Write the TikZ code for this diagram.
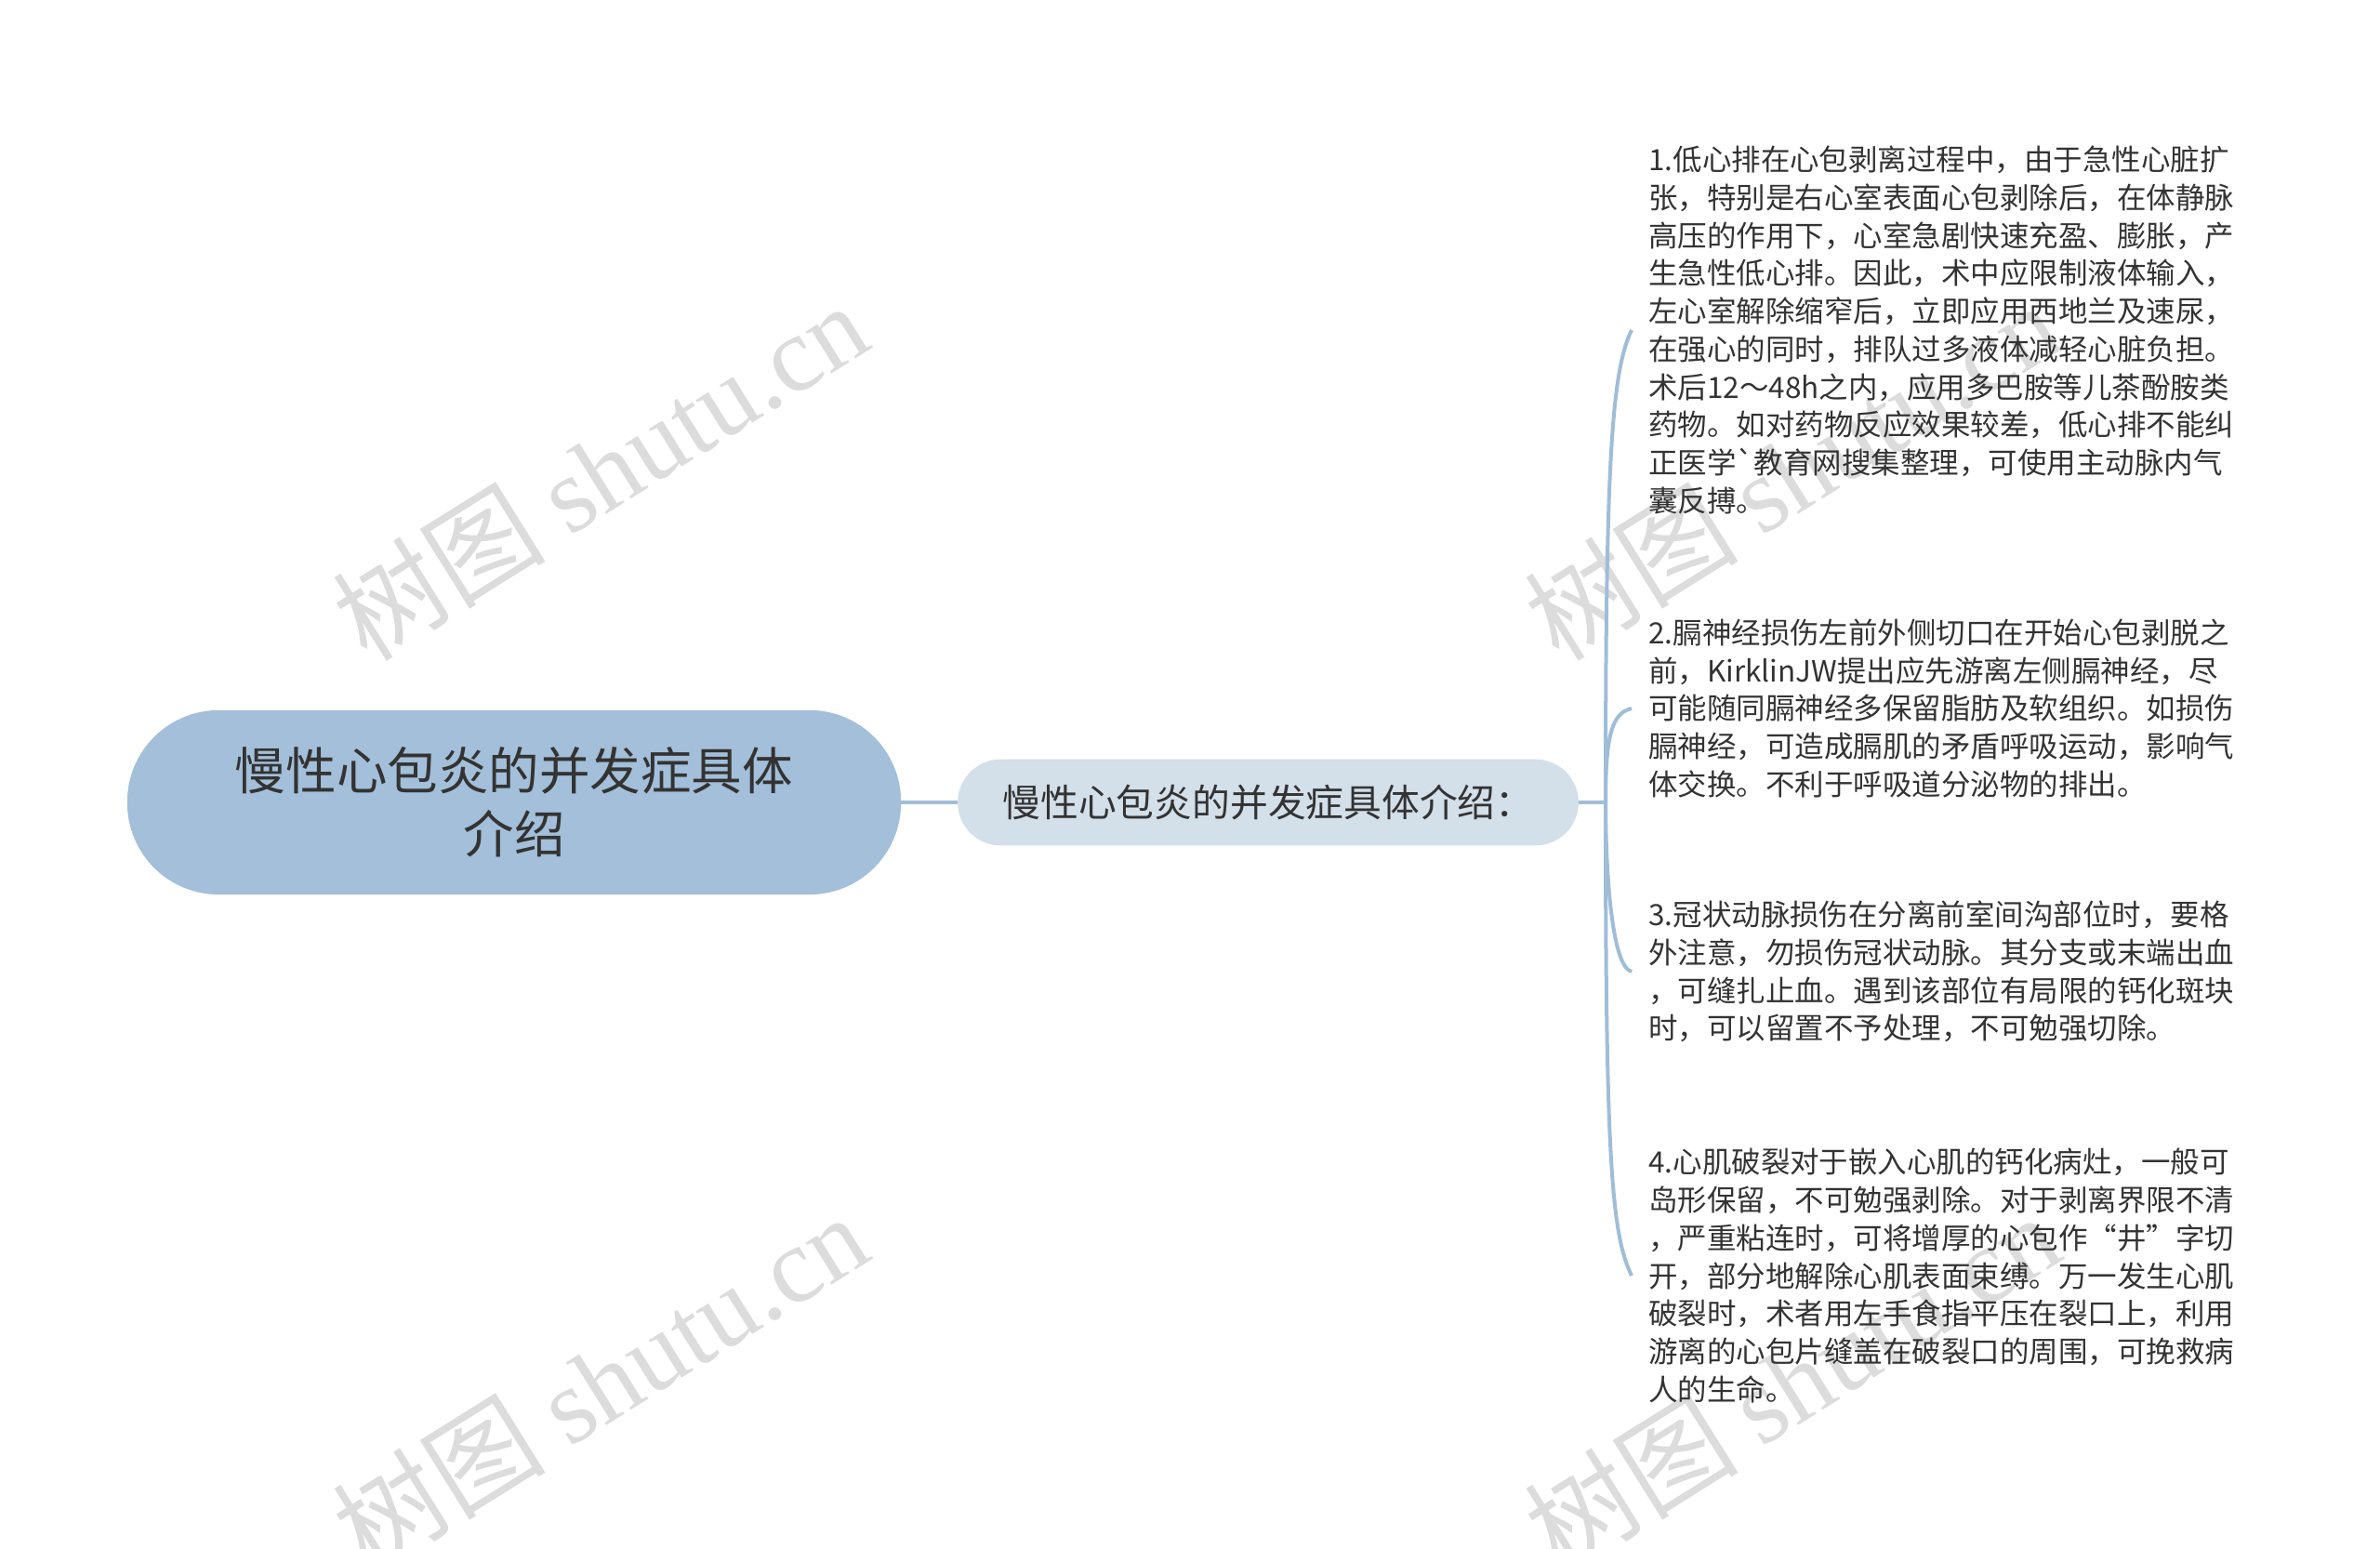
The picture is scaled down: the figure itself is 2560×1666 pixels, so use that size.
\documentclass[tikz,border=0pt]{standalone}
\usepackage{fontspec}
\setmainfont{Noto Sans CJK SC}
\newfontfamily\wmlatin{Liberation Serif}
\newfontfamily\wmcjk{Noto Sans CJK SC}
\definecolor{rootblue}{HTML}{A3BFD9}
\definecolor{subblue}{HTML}{D3DFE9}
\definecolor{linkblue}{HTML}{A0BDD8}
\definecolor{inktext}{HTML}{333333}
\definecolor{wmgray}{HTML}{DCDCDC}
\begin{document}
\begin{tikzpicture}[x=0.25mm,y=0.25mm,
    rootbox/.style={fill=rootblue,text=inktext,align=center,minimum width=592pt,minimum height=141pt,rounded corners=70pt,font=\fontsize{38.8pt}{48.4pt}\selectfont},
    subbox/.style={fill=subblue,text=inktext,minimum width=475pt,minimum height=66pt,rounded corners=33pt,font=\fontsize{29pt}{36pt}\selectfont},
    leafbox/.style={anchor=west,align=left,text=inktext,inner xsep=12.8pt,inner ysep=0pt,font=\fontsize{22.4pt}{29pt}\selectfont},
    link/.style={draw=linkblue,line width=2.85pt},
    wmark/.style={text=wmgray,rotate=32,font=\fontsize{82pt}{82pt}\selectfont}]
    \useasboundingbox (0,0) rectangle (2560,1666);
    % watermarks
    \node[wmark] (wm1) at (645,1160) {\wmcjk 树图 \wmlatin shutu.cn};
    \node[wmark] (wm2) at (645,180) {\wmcjk 树图 \wmlatin shutu.cn};
    \node[wmark] (wm3) at (1927,1160) {\wmcjk 树图 \wmlatin shutu.cn};
    \node[wmark] (wm4) at (1927,180) {\wmcjk 树图 \wmlatin shutu.cn};
    % main topic and subtopic
    \node[rootbox] (root) at (553,803) {慢性心包炎的并发症具体\\介绍};
    \node[subbox] (sub) at (1364,803) {慢性心包炎的并发症具体介绍：};
    \coordinate (hub) at (1727,803);
    % leaves
    \node[leafbox] (leaf1) at (1755,1311) {1.低心排在心包剥离过程中，由于急性心脏扩\\张，特别是右心室表面心包剥除后，在体静脉\\高压的作用下，心室急剧快速充盈、膨胀，产\\生急性低心排。因此，术中应限制液体输入，\\左心室解除缩窄后，立即应用西地兰及速尿，\\在强心的同时，排队过多液体减轻心脏负担。\\术后12～48h之内，应用多巴胺等儿茶酚胺类\\药物。如对药物反应效果较差，低心排不能纠\\正医学\textasciigrave 教育网搜集整理，可使用主动脉内气\\囊反搏。};
    \node[leafbox] (leaf2) at (1755,904) {2.膈神经损伤左前外侧切口在开始心包剥脱之\\前，KirklinJW提出应先游离左侧膈神经，尽\\可能随同膈神经多保留脂肪及软组织。如损伤\\膈神经，可造成膈肌的矛盾呼吸运动，影响气\\体交换。不利于呼吸道分泌物的排出。};
    \node[leafbox] (leaf3) at (1755,621) {3.冠状动脉损伤在分离前室间沟部位时，要格\\外注意，勿损伤冠状动脉。其分支或末端出血\\，可缝扎止血。遇到该部位有局限的钙化斑块\\时，可以留置不予处理，不可勉强切除。};
    \node[leafbox] (leaf4) at (1755,294) {4.心肌破裂对于嵌入心肌的钙化病灶，一般可\\岛形保留，不可勉强剥除。对于剥离界限不清\\，严重粘连时，可将增厚的心包作“井”字切\\开，部分地解除心肌表面束缚。万一发生心肌\\破裂时，术者用左手食指平压在裂口上，利用\\游离的心包片缝盖在破裂口的周围，可挽救病\\人的生命。};
    % connectors
    \draw[link] (root.east) -- (sub.west);
    \draw[link] (sub.east) -- (hub);
    \draw[link] (hub) .. controls +(0,360) and +(-22,-45) .. (leaf1.west);
    \draw[link] (hub) .. controls +(0,70) and +(-22,-5) .. (leaf2.west);
    \draw[link] (hub) .. controls +(0,-70) and +(-22,5) .. (leaf3.west);
    \draw[link] (hub) .. controls +(0,-380) and +(-22,45) .. (leaf4.west);
\end{tikzpicture}
\end{document}
